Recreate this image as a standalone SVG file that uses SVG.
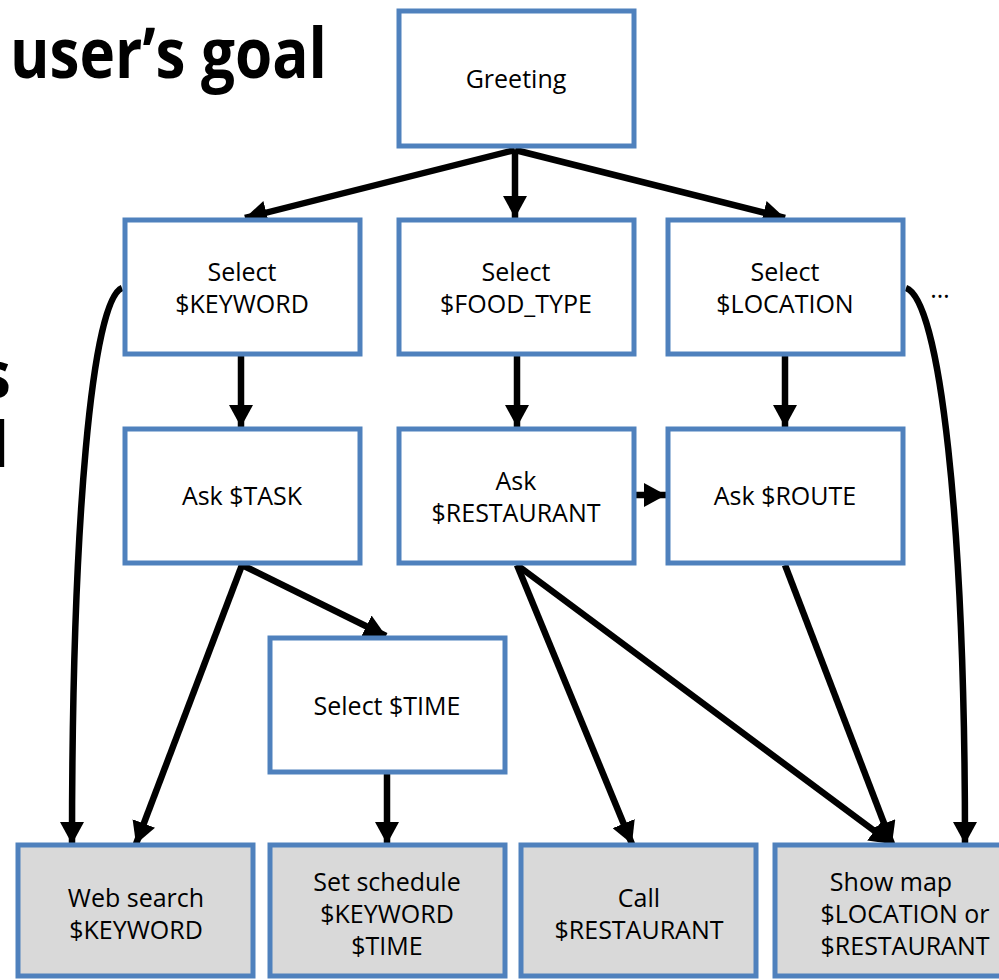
<svg xmlns="http://www.w3.org/2000/svg" width="999" height="980" viewBox="0 0 999 980">
  <style>
    .box { fill: #ffffff; stroke: #4f81bd; stroke-width: 5; }
    .leaf { fill: #d9d9d9; stroke: #4f81bd; stroke-width: 5; }
    .lbl { font-family: "Open Sans", "Noto Sans", "DejaVu Sans", sans-serif; font-size: 25px; fill: #000; text-anchor: middle; }
    .title { font-family: "Open Sans", "Noto Sans", "DejaVu Sans", sans-serif; font-weight: bold; font-size: 66px; fill: #000; }
    .edge { fill: none; stroke: #000; stroke-width: 6.5; marker-end: url(#arrow); }
  </style>
  <defs>
    <marker id="arrow" markerUnits="userSpaceOnUse" markerWidth="24" markerHeight="24" refX="22" refY="12" orient="auto">
      <path d="M0,0 L22,12 L0,24 z" fill="#000"/>
    </marker>
  </defs>

  <rect width="999" height="980" fill="#ffffff"/>

  <!-- heading text, partly outside the canvas -->
  <text class="title" x="10" y="78" style="font-size:70px" textLength="317" lengthAdjust="spacingAndGlyphs">user’s goal</text>
  <text class="title" x="11" y="398" text-anchor="end">s</text>
  <text class="title" x="10" y="467" text-anchor="end">I</text>

  <!-- connectors -->
  <g id="connectors">
    <line class="edge" x1="515" y1="150" x2="245" y2="218"/>
    <line class="edge" x1="515" y1="150" x2="515" y2="218"/>
    <line class="edge" x1="515" y1="150" x2="785" y2="218"/>
    <line class="edge" x1="241" y1="355" x2="241" y2="427"/>
    <line class="edge" x1="517" y1="355" x2="517" y2="427"/>
    <line class="edge" x1="785" y1="355" x2="785" y2="427"/>
    <line class="edge" x1="633" y1="495" x2="666" y2="495"/>
    <path class="edge" d="M242,565 L136,844"/>
    <path class="edge" d="M242,565 L386,636"/>
    <line class="edge" x1="387" y1="773" x2="387" y2="844"/>
    <path class="edge" d="M517,565 L632,844"/>
    <path class="edge" d="M517,565 L892,844"/>
    <path class="edge" d="M785,565 L892,844"/>
    <path class="edge" d="M122,288 C92,300 72,520 72,844"/>
    <path class="edge" d="M906,288 C940,300 965,520 965,844"/>
  </g>

  <g id="greeting">
    <rect class="box" x="399" y="11" width="235" height="135"/>
    <text class="lbl" x="516" y="88">Greeting</text>
  </g>

  <g id="select-keyword">
    <rect class="box" x="125" y="220" width="235" height="134"/>
    <text class="lbl" x="242" y="281">Select</text>
    <text class="lbl" x="242" y="313">$KEYWORD</text>
  </g>
  <g id="select-food-type">
    <rect class="box" x="399" y="220" width="235" height="134"/>
    <text class="lbl" x="516" y="281">Select</text>
    <text class="lbl" x="516" y="313">$FOOD_TYPE</text>
  </g>
  <g id="select-location">
    <rect class="box" x="668" y="220" width="235" height="134"/>
    <text class="lbl" x="785" y="281">Select</text>
    <text class="lbl" x="785" y="313">$LOCATION</text>
  </g>
  <text class="lbl" x="940" y="298">…</text>

  <g id="ask-task">
    <rect class="box" x="125" y="429" width="235" height="134"/>
    <text class="lbl" x="242" y="505">Ask $TASK</text>
  </g>
  <g id="ask-restaurant">
    <rect class="box" x="399" y="429" width="235" height="134"/>
    <text class="lbl" x="516" y="490">Ask</text>
    <text class="lbl" x="516" y="522">$RESTAURANT</text>
  </g>
  <g id="ask-route">
    <rect class="box" x="668" y="429" width="235" height="134"/>
    <text class="lbl" x="785" y="505">Ask $ROUTE</text>
  </g>

  <g id="select-time">
    <rect class="box" x="270" y="638" width="235" height="134"/>
    <text class="lbl" x="387" y="715">Select $TIME</text>
  </g>

  <g id="web-search">
    <rect class="leaf" x="18" y="845" width="235" height="131"/>
    <text class="lbl" x="136" y="907">Web search</text>
    <text class="lbl" x="136" y="939">$KEYWORD</text>
  </g>
  <g id="set-schedule">
    <rect class="leaf" x="270" y="845" width="235" height="131"/>
    <text class="lbl" x="387" y="891">Set schedule</text>
    <text class="lbl" x="387" y="923">$KEYWORD</text>
    <text class="lbl" x="387" y="955">$TIME</text>
  </g>
  <g id="call">
    <rect class="leaf" x="521" y="845" width="235" height="131"/>
    <text class="lbl" x="639" y="907">Call</text>
    <text class="lbl" x="639" y="939">$RESTAURANT</text>
  </g>
  <g id="show-map">
    <rect class="leaf" x="775" y="845" width="235" height="131"/>
    <text class="lbl" x="891" y="891">Show map</text>
    <text class="lbl" x="905" y="923">$LOCATION or</text>
    <text class="lbl" x="905" y="955">$RESTAURANT</text>
  </g>
</svg>
